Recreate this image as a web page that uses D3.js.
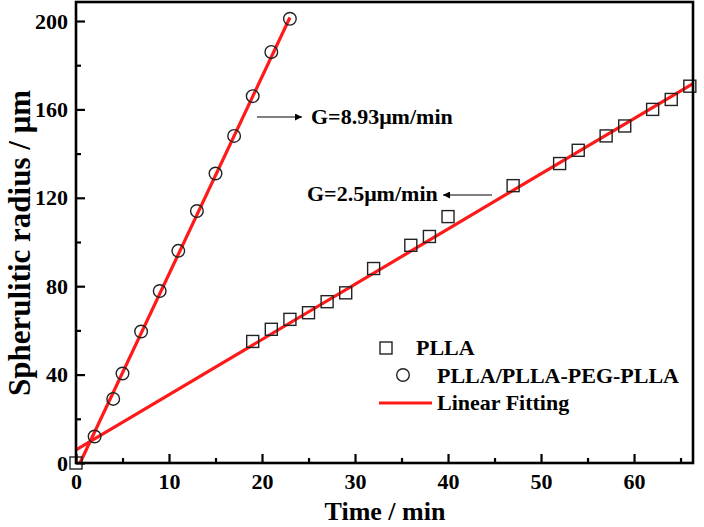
<!DOCTYPE html>
<html><head><meta charset="utf-8">
<script src="https://cdn.jsdelivr.net/npm/d3@7"></script>
<style>html,body{margin:0;padding:0;background:#fff;}svg{display:block;}
svg text{font-family:"Liberation Serif","Times New Roman","DejaVu Serif",serif;font-weight:bold;}</style>
</head><body>
<script>
// ---- data ----
const plllaTime = [0, 19, 21, 23, 25, 27, 29, 32, 36, 38, 40, 47, 52, 54, 57, 59, 62, 64, 66];
const plllaRadius = [0, 55, 60.5, 65, 68, 73, 77, 88, 98.5, 102.5, 111.5, 125.5, 135.5, 141.5, 148, 152.5, 160, 164.5, 170.5];
const blendTime = [2, 4, 5, 7, 9, 11, 13, 15, 17, 19, 21, 23];
const blendRadius = [12, 29, 40.5, 59.5, 77.8, 96, 114, 131, 148, 166, 186, 201];
const fitPllaEnds = [[0, 5.9], [66.34, 171.7]];
const fitBlendEnds = [[0.43, 0], [23, 201.6]];
const xTicks = [0, 10, 20, 30, 40, 50, 60];
const xMinor = [5, 15, 25, 35, 45, 55, 65];
const yTicks = [0, 40, 80, 120, 160, 200];
const yMinor = [20, 60, 100, 140, 180];
const legendLabels = ["PLLA", "PLLA/PLLA-PEG-PLLA", "Linear Fitting"];
const annotations = ["G=8.93\u03bcm/min", "G=2.5\u03bcm/min"];

const W = 704, H = 527;
const svg = d3.select("body").append("svg").attr("width", W).attr("height", H);

const x = d3.scaleLinear().domain([0, 66.34]).range([76, 693]);
const y = d3.scaleLinear().domain([0, 208.6]).range([463, 2]);

// fit lines
const line = d3.line().x(d => x(d[0])).y(d => y(d[1]));
[fitPllaEnds, fitBlendEnds].forEach(e => {
  svg.append("path").attr("d", line(e)).attr("fill", "none")
    .attr("stroke", "#ff1a1a").attr("stroke-width", 3.2);
});

// markers
const sq = 12;
svg.append("g").selectAll("rect").data(plllaTime.map((t, i) => [t, plllaRadius[i]])).join("rect")
  .attr("x", d => x(d[0]) - sq / 2).attr("y", d => y(d[1]) - sq / 2)
  .attr("width", sq).attr("height", sq)
  .attr("fill", "none").attr("stroke", "#222").attr("stroke-width", 1.4);
svg.append("g").selectAll("circle").data(blendTime.map((t, i) => [t, blendRadius[i]])).join("circle")
  .attr("cx", d => x(d[0])).attr("cy", d => y(d[1])).attr("r", 6.3)
  .attr("fill", "none").attr("stroke", "#222").attr("stroke-width", 1.4);

// frame
svg.append("rect").attr("x", 76).attr("y", 2).attr("width", 617).attr("height", 461)
  .attr("fill", "none").attr("stroke", "#000").attr("stroke-width", 2.6);

// axes
const xAxis = d3.axisBottom(x).tickValues(xTicks).tickSize(-9).tickPadding(10).tickFormat(d3.format("d"));
const gx = svg.append("g").attr("transform", "translate(0,463)").call(xAxis);
const xAxisMinor = d3.axisBottom(x).tickValues(xMinor).tickSize(-5).tickFormat("");
const gxm = svg.append("g").attr("transform", "translate(0,463)").call(xAxisMinor);
const yAxis = d3.axisLeft(y).tickValues(yTicks).tickSize(-9).tickPadding(8).tickFormat(d3.format("d"));
const gy = svg.append("g").attr("transform", "translate(76,0)").call(yAxis);
const yAxisMinor = d3.axisLeft(y).tickValues(yMinor).tickSize(-5).tickFormat("");
const gym = svg.append("g").attr("transform", "translate(76,0)").call(yAxisMinor);
[gx, gxm, gy, gym].forEach(g => {
  g.select(".domain").remove();
  g.selectAll("line").attr("stroke", "#000").attr("stroke-width", 2.2);
  g.selectAll("text").attr("font-family", null).attr("font-size", 22).attr("fill", "#000");
});

// axis titles
svg.append("text").attr("x", 385).attr("y", 520).attr("text-anchor", "middle")
  .attr("font-size", 26).text("Time / min");
svg.append("text").attr("transform", "translate(30,243) rotate(-90)").attr("text-anchor", "middle")
  .attr("font-size", 31).text("Spherulitic radius / \u03bcm");

// annotations with arrows
const defs = svg.append("defs");
defs.append("marker").attr("id", "ah").attr("viewBox", "0 0 10 10").attr("refX", 10).attr("refY", 5)
  .attr("markerWidth", 10).attr("markerHeight", 7).attr("markerUnits", "userSpaceOnUse").attr("orient", "auto")
  .append("path").attr("d", "M0,0 L10,5 L0,10 z").attr("fill", "#000");
svg.append("line").attr("x1", 257).attr("y1", 117).attr("x2", 302).attr("y2", 117)
  .attr("stroke", "#000").attr("stroke-width", 1).attr("marker-end", "url(#ah)");
svg.append("text").attr("x", 311).attr("y", 124).attr("font-size", 22).text(annotations[0]);
svg.append("line").attr("x1", 492).attr("y1", 195).attr("x2", 443).attr("y2", 195)
  .attr("stroke", "#000").attr("stroke-width", 1).attr("marker-end", "url(#ah)");
svg.append("text").attr("x", 307).attr("y", 201).attr("font-size", 22).text(annotations[1]);

// legend
const lg = svg.append("g");
lg.append("rect").attr("x", 380).attr("y", 342).attr("width", sq).attr("height", sq)
  .attr("fill", "none").attr("stroke", "#222").attr("stroke-width", 1.4);
lg.append("text").attr("x", 416).attr("y", 355).text(legendLabels[0]);
lg.append("circle").attr("cx", 403).attr("cy", 375).attr("r", 6.3)
  .attr("fill", "none").attr("stroke", "#222").attr("stroke-width", 1.4);
lg.append("text").attr("x", 437).attr("y", 383).text(legendLabels[1]);
lg.append("line").attr("x1", 379).attr("x2", 432).attr("y1", 403).attr("y2", 403)
  .attr("stroke", "#ff1a1a").attr("stroke-width", 3);
lg.append("text").attr("x", 437).attr("y", 410).text(legendLabels[2]);
lg.selectAll("text").attr("font-size", 22).attr("fill", "#000");
</script>
</body></html>
